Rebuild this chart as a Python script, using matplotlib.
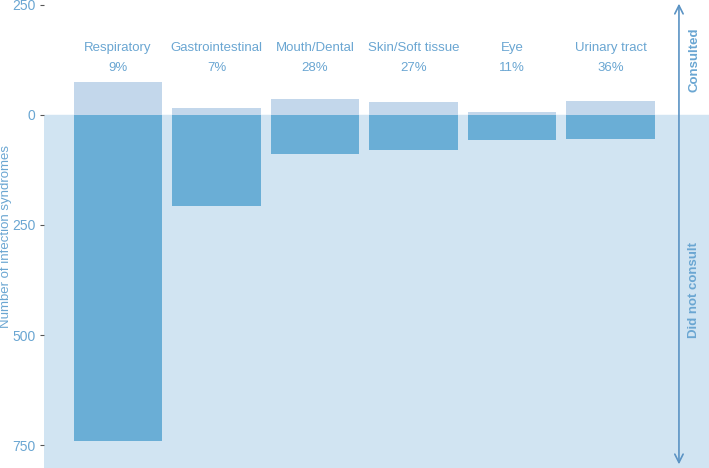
import matplotlib.pyplot as plt
import numpy as np

plt.rcParams['font.family'] = ['Liberation Sans', 'DejaVu Sans']

# Infection syndromes: consulted (up) vs did not consult (down)
categories = ['Respiratory', 'Gastrointestinal', 'Mouth/Dental', 'Skin/Soft tissue', 'Eye', 'Urinary tract']
pct_labels = ['9%', '7%', '28%', '27%', '11%', '36%']
consulted = [75, 16, 35, 30, 7, 31]
not_consulted = [741, 206, 89, 80, 57, 55]
yticks = [250, 0, -250, -500, -750]
ytick_labels = ['250', '0', '250', '500', '750']

text_col = '#6aa6d2'
light_col = '#c3d7eb'
dark_col = '#6aaed6'
bg_col = '#d1e4f2'
arrow_col = '#5b93c4'

fig = plt.figure(figsize=(7.09, 4.68), dpi=100)
ax = fig.add_axes([44 / 709, 0, 665 / 709, 1])

x = np.arange(len(categories))
ax.axhspan(-810, 0, color=bg_col, zorder=0)
ax.bar(x, consulted, width=0.9, color=light_col, zorder=2)
ax.bar(x, [-v for v in not_consulted], width=0.9, color=dark_col, zorder=2)

for i, (c, p) in enumerate(zip(categories, pct_labels)):
    ax.text(i, 152, c, ha='center', va='center', color=text_col, fontsize=9.5)
    ax.text(i, 107, p, ha='center', va='center', color=text_col, fontsize=9.5)

ax.set_xlim(-0.751, 6.0)
ax.set_ylim(-802, 261)
ax.set_yticks(yticks)
ax.set_yticklabels(ytick_labels, color=text_col, fontsize=10)
ax.tick_params(axis='y', length=3, color='#555555', pad=3)
ax.set_xticks([])
for s in ax.spines.values():
    s.set_visible(False)
fig.text(6 / 709, 1 - 236 / 468, 'Number of infection syndromes', rotation=90,
         ha='center', va='center', color=text_col, fontsize=9.5)

# two-headed arrow on the right
ax.annotate('', xy=(5.695, 259), xytext=(5.695, -800),
            arrowprops=dict(arrowstyle='<->, head_length=0.6, head_width=0.3',
                            color=arrow_col, lw=1.2), annotation_clip=False)
ax.text(5.85, 125, 'Consulted', rotation=90, ha='center', va='center',
        color=text_col, fontsize=9.5, fontweight='bold')
ax.text(5.85, -398, 'Did not consult', rotation=90, ha='center', va='center',
        color=text_col, fontsize=9.5, fontweight='bold')

fig.savefig('out.png', dpi=100)
